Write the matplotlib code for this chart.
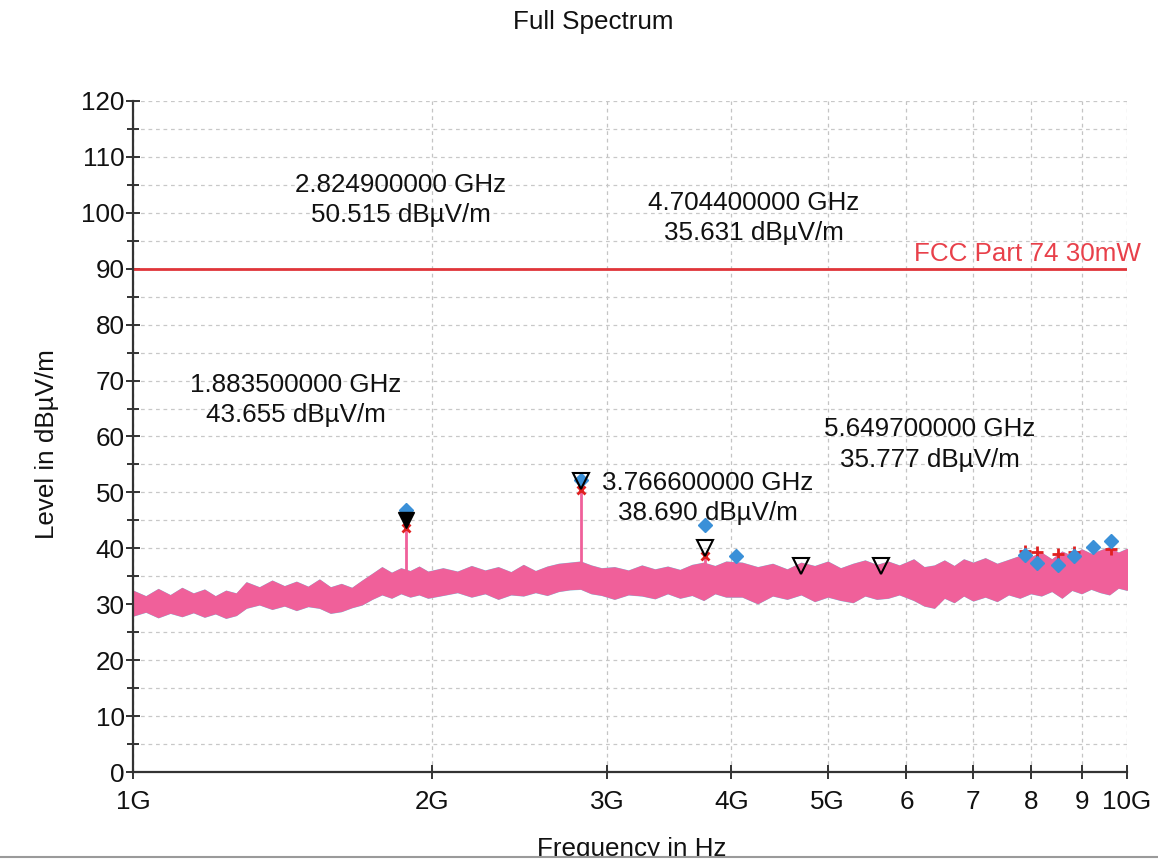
import numpy as np
import matplotlib
matplotlib.use("Agg")
import matplotlib.pyplot as plt
from matplotlib.ticker import NullLocator, MultipleLocator
from matplotlib.lines import Line2D
from matplotlib.patches import Rectangle

plt.rcParams['font.family'] = ['Liberation Sans', 'DejaVu Sans']

trace_freq = [1.00, 1.03, 1.06, 1.09, 1.12, 1.15, 1.18, 1.21, 1.24, 1.27,
              1.30, 1.34, 1.38, 1.42, 1.46, 1.50, 1.54, 1.58, 1.62, 1.66, 1.70,
              1.74, 1.78, 1.82, 1.86, 1.90, 1.94, 1.98,
              2.05, 2.12, 2.19, 2.26, 2.33, 2.40, 2.47, 2.54, 2.61, 2.68, 2.75, 2.82, 2.89, 2.96,
              3.05, 3.15, 3.25, 3.35, 3.45, 3.55, 3.65, 3.75, 3.85, 3.95,
              4.10, 4.25, 4.40, 4.55, 4.70, 4.85, 5.00, 5.15, 5.30, 5.45, 5.60, 5.75, 5.90,
              6.10, 6.25, 6.40, 6.55, 6.70, 6.85, 7.00, 7.20, 7.40, 7.60, 7.80, 8.00,
              8.20, 8.40, 8.60, 8.80, 9.00, 9.20, 9.40, 9.60, 9.80, 10.0]
trace_upper = [32.4, 31.4, 32.7, 31.6, 32.9, 31.9, 32.6, 31.4, 32.4, 31.9,
               33.9, 33.0, 34.2, 33.2, 34.0, 33.1, 34.4, 33.0, 33.6, 32.9, 34.2,
               35.4, 36.6, 35.6, 36.4, 35.9, 36.7, 35.8,
               36.4, 35.8, 36.8, 36.0, 36.6, 35.7, 37.0, 35.9, 36.7, 37.2, 37.4, 37.6, 36.9, 36.4,
               36.6, 36.0, 36.9, 36.2, 36.7, 36.1, 37.0, 37.4, 36.8, 37.6,
               37.4, 36.6, 37.2, 36.2, 37.4, 36.8, 37.6, 36.4, 37.2, 37.8, 37.0, 37.6, 36.9,
               38.0, 36.6, 36.9, 37.8, 36.8, 38.0, 37.4, 38.2, 37.2, 37.9, 38.6, 38.4,
               39.2, 38.0, 39.4, 38.6, 39.8, 39.0, 39.6, 40.2, 39.2, 39.9]
trace_lower = [28.0, 28.7, 27.7, 28.5, 27.9, 28.6, 27.8, 28.4, 27.6, 28.1,
               29.4, 30.0, 29.2, 29.8, 29.0, 29.7, 29.4, 28.5, 28.8, 29.5, 30.0,
               31.0, 31.8, 31.2, 32.0, 31.4, 31.8, 31.2,
               31.7, 32.2, 31.4, 32.0, 31.0, 31.8, 31.6, 32.2, 31.7, 32.4, 32.7, 32.8, 32.0, 31.7,
               31.0, 31.8, 31.6, 31.1, 32.0, 31.2, 31.7, 30.8, 32.0, 31.4,
               31.4, 30.2, 31.6, 31.0, 31.8, 30.6, 31.4, 30.8, 30.4, 31.6, 31.0, 31.2, 31.8,
               30.8, 29.8, 29.4, 31.2, 30.4, 31.6, 30.7, 31.4, 30.6, 31.8, 31.2, 32.0,
               31.6, 32.4, 31.2, 32.6, 32.0, 32.8, 32.2, 31.8, 33.0, 32.6]

# marker peaks
peak_freq = [1.8835, 2.8249, 3.7666]
peak_level = [43.655, 50.515, 38.690]
peak_base = [33.5, 34.0, 34.0]

final_freq = [1.8835, 2.8249, 3.7666, 4.7044, 5.6497]
final_level = [43.655, 50.515, 38.690, 35.631, 35.777]
tri_level = [45.0, 52.0, 40.0, 36.8, 36.8]

diamond_freq = [1.8835, 2.8249, 3.7666, 4.04, 7.90, 8.12, 8.52, 8.84, 9.24, 9.64]
diamond_level = [46.8, 52.2, 44.2, 38.6, 38.8, 37.4, 37.0, 38.6, 40.2, 41.3]

plus_freq = [7.90, 8.12, 8.52, 8.84, 9.64]
plus_level = [39.6, 39.3, 38.9, 39.3, 39.9]

limit_level = 90
limit_name = "FCC Part 74 30mW"

xtick_ghz = [1, 2, 3, 4, 5, 6, 7, 8, 9, 10]
xtick_labels = ['1G', '2G', '3G', '4G', '5G', '6', '7', '8', '9', '10G']

FS = 18.7

fig = plt.figure(figsize=(11.58, 8.63), dpi=100)
ax = fig.add_axes([133 / 1158, 1 - 772 / 863, 994 / 1158, 671 / 863])

f = np.array(trace_freq) * 1e9
ax.fill_between(f, np.array(trace_lower) - 0.15, np.array(trace_upper) + 0.15,
                color='#74cde4', lw=0, zorder=2)
ax.fill_between(f, trace_lower, trace_upper, color='#f0609a', lw=0.8,
                edgecolor='#f0609a', zorder=3)

pf = np.array(peak_freq) * 1e9
ax.vlines(pf, peak_base, peak_level, color='#f0609a', lw=2, zorder=3)

ax.axhline(limit_level, color='#e0353a', lw=2, zorder=4)
ax.text(10.33e9, 92.6, limit_name, color='#e8404a', fontsize=FS,
        ha='right', va='center', zorder=5)

# markers
ax.plot(np.array(diamond_freq) * 1e9, diamond_level, 'D', color='#3a90d8',
        ms=7, zorder=6, clip_on=False)
ax.plot(pf, peak_level, 'x', color='#e02020', ms=6, mew=2, zorder=7)
ax.plot(np.array(plus_freq) * 1e9, plus_level, '+', color='#e02020', ms=9,
        mew=2, zorder=5)
ax.plot([final_freq[0] * 1e9], [tri_level[0]], 'v', color='black', ms=11,
        zorder=8)
ax.plot(np.array(final_freq[1:]) * 1e9, tri_level[1:], 'v', mfc='none',
        mec='black', mew=1.5, ms=11, zorder=8)

# marker readouts
label_pos = [(1.459, 66.5), (1.860, 102.3), (3.789, 49.0), (4.215, 99.1), (6.336, 58.6)]
for fq, lv, (tx, ty) in zip(final_freq, final_level, label_pos):
    ax.text(tx * 1e9, ty, f"{fq:.9f} GHz\n{lv:.3f} dBµV/m", fontsize=FS,
            ha='center', va='center', multialignment='center', zorder=9,
            color='#111111', linespacing=1.35)

ax.set_xscale('log')
ax.set_xlim(1e9, 1e10)
ax.set_ylim(0, 120)
ax.set_xticks([v * 1e9 for v in xtick_ghz])
ax.set_xticklabels(xtick_labels)
ax.xaxis.set_minor_locator(NullLocator())
ax.yaxis.set_major_locator(MultipleLocator(10))
ax.yaxis.set_minor_locator(MultipleLocator(5))

ax.grid(which='major', axis='x', color='#c4c4c4', lw=0.9, ls=(0, (3, 3)))
ax.grid(which='both', axis='y', color='#c8c8c8', lw=0.9, ls=(0, (3, 3)))
ax.set_axisbelow(True)

for side in ['top', 'right']:
    ax.spines[side].set_visible(False)
for side in ['left', 'bottom']:
    ax.spines[side].set_color('#333333')
    ax.spines[side].set_linewidth(1.6)
    ax.spines[side].set_zorder(10)

ax.tick_params(axis='both', which='major', direction='inout', length=10,
               width=1.4, color='#333333', labelsize=FS, labelcolor='#111111')
ax.tick_params(axis='y', which='minor', direction='inout', length=8,
               width=1.4, color='#333333')
ax.tick_params(axis='x', pad=8)
ax.tick_params(axis='y', pad=1)

fig.text(593 / 1158, 1 - 22 / 863, "Full Spectrum", fontsize=FS,
         ha='center', va='center', color='#111111')
fig.text(47 / 1158, 1 - 444 / 863, "Level in dBµV/m", fontsize=FS,
         rotation=90, ha='center', va='center', color='#111111')
fig.text(632 / 1158, 1 - 837 / 863, "Frequency in Hz", fontsize=FS,
         ha='center', va='top', color='#111111')

# screenshot bottom border cuts the x label
fig.patches.append(Rectangle((0, 0), 1, 6 / 863, transform=fig.transFigure,
                             facecolor='white', edgecolor='none', zorder=20))
fig.lines.append(Line2D([0, 1], [6 / 863, 6 / 863], transform=fig.transFigure,
                        color='#9a9a9a', lw=1.5, zorder=21))

fig.savefig("out.png", dpi=100)
